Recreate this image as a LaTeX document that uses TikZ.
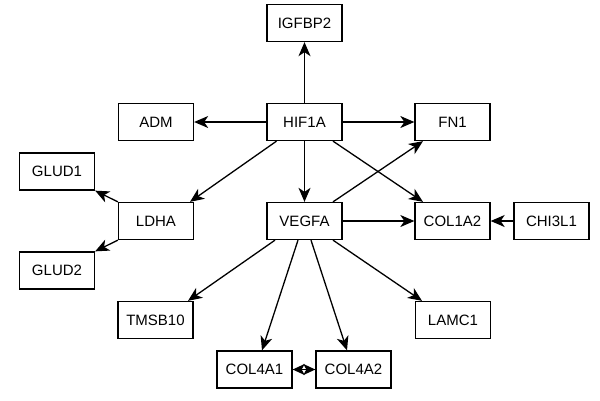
\documentclass[tikz,border=0pt]{standalone}
\usepackage{fontspec}
\setmainfont{Liberation Sans}
\usetikzlibrary{arrows.meta,calc}
\begin{document}
\begin{tikzpicture}[x=1pt,y=-1pt,
  gene/.style={draw,line width=1.3pt,minimum width=75pt,minimum height=37pt,inner sep=0pt,font=\fontsize{15}{17}\selectfont},
  edge/.style={line width=1.3pt,-{Stealth[length=14pt,width=12pt,inset=4pt]}},
  bi/.style={line width=1.3pt,{Stealth[length=12pt,width=11pt,inset=3pt]}-{Stealth[length=12pt,width=11pt,inset=3pt]}}]
\useasboundingbox (0,0) rectangle (600,400);
\node[gene] (IGFBP2) at (304.5,23) {IGFBP2};
\node[gene] (ADM) at (156,122) {ADM};
\node[gene] (HIF1A) at (304.5,122) {HIF1A};
\node[gene] (FN1) at (452.5,122) {FN1};
\node[gene] (GLUD1) at (57,171.5) {GLUD1};
\node[gene] (LDHA) at (156,221) {LDHA};
\node[gene] (VEGFA) at (304.5,221) {VEGFA};
\node[gene] (COL1A2) at (452.5,221) {COL1A2};
\node[gene] (CHI3L1) at (551.5,221) {CHI3L1};
\node[gene] (GLUD2) at (57,270.5) {GLUD2};
\node[gene] (TMSB10) at (155.5,320) {TMSB10};
\node[gene] (LAMC1) at (453,320) {LAMC1};
\node[gene] (COL4A1) at (254.5,369.5) {COL4A1};
\node[gene] (COL4A2) at (353.5,369.5) {COL4A2};

\draw[edge] (HIF1A.north) -- (IGFBP2.south);
\draw[edge] (HIF1A.west) -- (ADM.east);
\draw[edge] (HIF1A.east) -- (FN1.west);
\draw[edge] (HIF1A.south) -- (VEGFA.north);
\draw[edge] ($(HIF1A.south)+(-28,0)$) -- ($(LDHA.north)+(34,0)$);
\draw[edge] ($(HIF1A.south)+(28.5,0)$) -- ($(COL1A2.north)+(-29.5,0)$);
\draw[edge] ($(VEGFA.north)+(28.5,0)$) -- ($(FN1.south)+(-29.5,0)$);
\draw[edge] (VEGFA.east) -- (COL1A2.west);
\draw[edge] (CHI3L1.west) -- (COL1A2.east);
\draw[edge] (LDHA.north west) -- (GLUD1.south east);
\draw[edge] (LDHA.south west) -- (GLUD2.north east);
\draw[edge] ($(VEGFA.south)+(-29.5,0)$) -- ($(TMSB10.north)+(32.5,0)$);
\draw[edge] ($(VEGFA.south)+(-6.5,0)$) -- ($(COL4A1.north)+(7.5,0)$);
\draw[edge] ($(VEGFA.south)+(6.5,0)$) -- ($(COL4A2.north)+(-6.5,0)$);
\draw[edge] ($(VEGFA.south)+(28.5,0)$) -- ($(LAMC1.north)+(-31,0)$);
\draw[bi] (COL4A1.east) -- (COL4A2.west);
\end{tikzpicture}
\end{document}
